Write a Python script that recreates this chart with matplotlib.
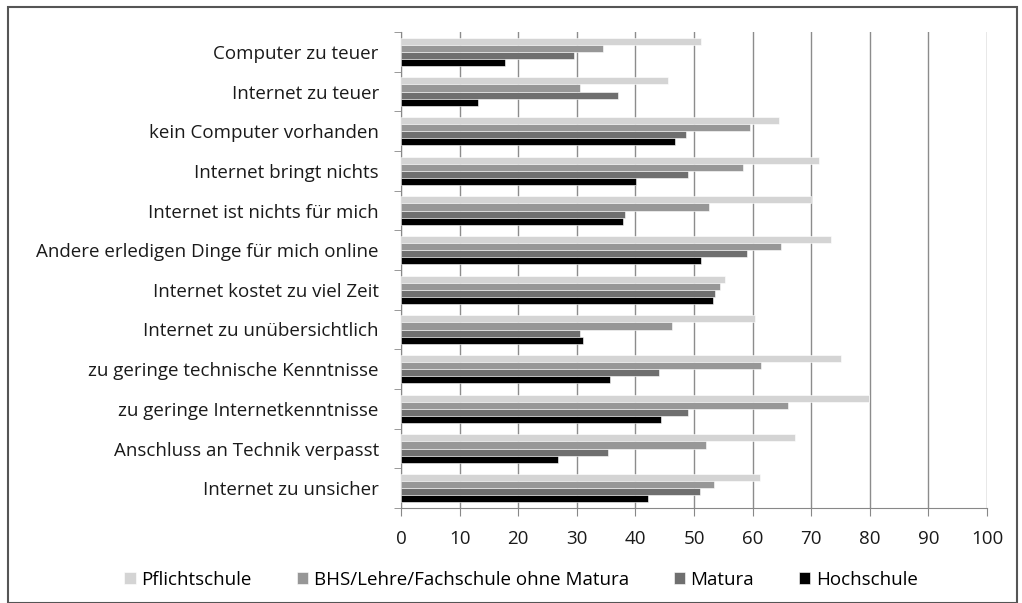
import matplotlib.pyplot as plt
import numpy as np
from matplotlib.patches import Rectangle

plt.rcParams['font.family'] = ['Open Sans', 'DejaVu Sans']

# Daten
kategorien = ["Computer zu teuer", "Internet zu teuer", "kein Computer vorhanden",
              "Internet bringt nichts", "Internet ist nichts für mich",
              "Andere erledigen Dinge für mich online", "Internet kostet zu viel Zeit",
              "Internet zu unübersichtlich", "zu geringe technische Kenntnisse",
              "zu geringe Internetkenntnisse", "Anschluss an Technik verpasst",
              "Internet zu unsicher"]
pflichtschule = [51.2, 45.6, 64.5, 71.3, 70.0, 73.3, 55.3, 60.4, 75.0, 79.8, 67.3, 61.3]
bhs = [34.5, 30.5, 59.6, 58.4, 52.6, 64.8, 54.5, 46.3, 61.5, 66.1, 52.1, 53.4]
matura = [29.5, 37.1, 48.6, 48.9, 38.2, 59.1, 53.5, 30.6, 44.0, 48.9, 35.3, 51.0]
hochschule = [17.7, 13.2, 46.7, 40.1, 37.9, 51.2, 53.2, 31.0, 35.7, 44.3, 26.8, 42.1]

serien = [pflichtschule, bhs, matura, hochschule]
namen = ["Pflichtschule", "BHS/Lehre/Fachschule ohne Matura", "Matura", "Hochschule"]
farben = ["#d4d4d4", "#979797", "#6f6f6f", "#000000"]

fig = plt.figure(figsize=(10.22, 6.03), dpi=100)
ax = fig.add_axes([401 / 1022, 1 - 508 / 603, 586 / 1022, 476 / 603])

y = np.arange(len(kategorien))
h = 0.178
for k, (werte, name, farbe) in enumerate(zip(serien, namen, farben)):
    ax.barh(y + (k - 1.5) * h, werte, height=h, color=farbe, label=name,
            edgecolor="white", linewidth=0.4, zorder=3)

ax.set_xlim(0, 100)
ax.set_ylim(len(kategorien) - 0.5, -0.5)
ax.set_xticks(np.arange(0, 101, 10))
ax.set_yticks(y)
ax.set_yticklabels(kategorien, fontsize=13.5, color="#1a1a1a")
ax.set_yticks(np.arange(-0.5, len(kategorien), 1), minor=True)
ax.tick_params(axis="y", which="major", length=0, pad=16)
ax.tick_params(axis="y", which="minor", length=5, color="#888888", direction="out")
ax.tick_params(axis="x", length=6, color="#888888", direction="out", pad=10,
               labelsize=13.5, labelcolor="#1a1a1a")
ax.grid(axis="x", color="#8c8c8c", linewidth=1, zorder=0)
for s in ["top", "right"]:
    ax.spines[s].set_visible(False)
for s in ["left", "bottom"]:
    ax.spines[s].set_color("#888888")

fig.legend(loc="center", bbox_to_anchor=(0.51, 1 - 580 / 603), ncol=4, frameon=False,
           fontsize=13.5, handlelength=0.6, handleheight=0.6, handletextpad=0.3,
           columnspacing=2.4)

fig.patches.append(Rectangle((8 / 1022, 0), 1009 / 1022, 1 - 7 / 603,
                             transform=fig.transFigure, fill=False,
                             edgecolor="#555555", linewidth=1.5))

fig.savefig("out.png", dpi=100)
